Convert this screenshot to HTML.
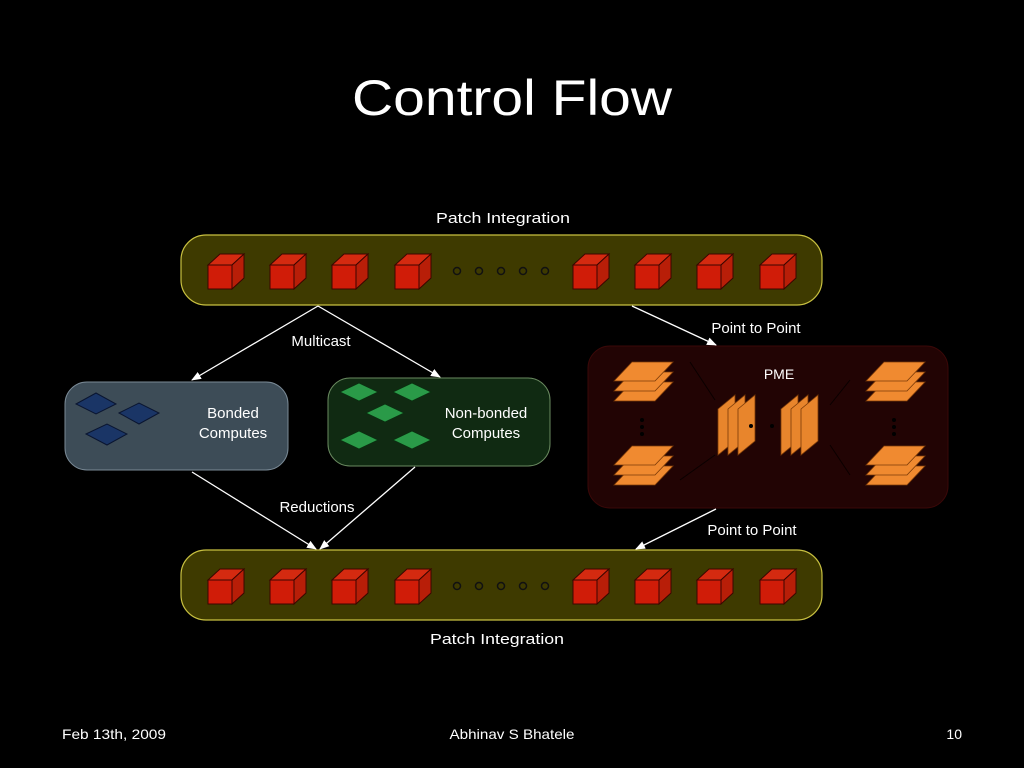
<!DOCTYPE html>
<html><head><meta charset="utf-8"><style>
html,body{margin:0;padding:0;background:#000;}
svg{display:block;}
text{font-family:"Liberation Sans",sans-serif;fill:#fff;}
</style></head><body>
<svg width="1024" height="768" viewBox="0 0 1024 768" xmlns="http://www.w3.org/2000/svg">
<defs>
<g id="cube">
<polygon points="0,0 24,0 36,-11 12,-11" fill="#d42a10" stroke="#3a0500" stroke-width="1"/>
<polygon points="24,0 36,-11 36,13 24,24" fill="#b81e08" stroke="#3a0500" stroke-width="1"/>
<rect x="0" y="0" width="24" height="24" fill="#d01c08" stroke="#3a0500" stroke-width="1"/>
</g>
<g id="row">
<use href="#cube" x="208" y="0"/><use href="#cube" x="270" y="0"/><use href="#cube" x="332" y="0"/><use href="#cube" x="395" y="0"/>
<use href="#cube" x="573" y="0"/><use href="#cube" x="635" y="0"/><use href="#cube" x="697" y="0"/><use href="#cube" x="760" y="0"/>
<g fill="none" stroke="#111" stroke-width="1.5"><circle cx="457" cy="6" r="3.5"/><circle cx="479" cy="6" r="3.5"/><circle cx="501" cy="6" r="3.5"/><circle cx="523" cy="6" r="3.5"/><circle cx="545" cy="6" r="3.5"/></g>
</g>
<g id="layer"><polygon points="0,19 18,0 59,0 41,19" fill="#f08a30" stroke="#7a3a08" stroke-width="0.8"/></g>
<g id="stack"><use href="#layer" y="20"/><use href="#layer" y="10"/><use href="#layer" y="0"/></g>
<g id="panel"><polygon points="0,14 17,0 17,46 0,60" fill="#e8852c" stroke="#7a3a08" stroke-width="0.8"/></g>
<g id="panels"><use href="#panel" x="0"/><use href="#panel" x="10"/><use href="#panel" x="20"/></g>
<marker id="ah" markerWidth="10" markerHeight="8" refX="9" refY="4" orient="auto" markerUnits="userSpaceOnUse"><polygon points="0,0 10,4 0,8" fill="#fff"/></marker>
</defs>

<text x="512" y="115" font-size="50" text-anchor="middle" textLength="320" lengthAdjust="spacingAndGlyphs">Control Flow</text>

<text x="503" y="223" font-size="15" text-anchor="middle" textLength="134" lengthAdjust="spacingAndGlyphs">Patch Integration</text>
<rect x="181" y="235" width="641" height="70" rx="25" fill="#3e3a00" stroke="#c8c040" stroke-width="1.2"/>
<use href="#row" y="265"/>

<rect x="181" y="550" width="641" height="70" rx="25" fill="#3e3a00" stroke="#c8c040" stroke-width="1.2"/>
<use href="#row" y="580"/>
<text x="497" y="644" font-size="15" text-anchor="middle" textLength="134" lengthAdjust="spacingAndGlyphs">Patch Integration</text>

<!-- bonded -->
<rect x="65" y="382" width="223" height="88" rx="22" fill="#3d4c57" stroke="#7a8a96" stroke-width="1"/>
<g fill="#1a3566" stroke="#0a1530" stroke-width="1">
<polygon points="76,404 96,393 116,404 96,414"/>
<polygon points="119,413 139,403 159,413 139,424"/>
<polygon points="86,434 107,424 127,434 107,445"/>
</g>
<text x="233" y="418" font-size="15" text-anchor="middle">Bonded</text>
<text x="233" y="438" font-size="15" text-anchor="middle">Computes</text>

<!-- nonbonded -->
<rect x="328" y="378" width="222" height="88" rx="22" fill="#102a12" stroke="#6a8a60" stroke-width="1"/>
<g fill="#2a9a48" stroke="#0a3010" stroke-width="0.8">
<polygon points="340,392 359,383 378,392 359,401"/>
<polygon points="393,392 412,383 431,392 412,401"/>
<polygon points="366,413 385,404 404,413 385,422"/>
<polygon points="340,440 359,431 378,440 359,449"/>
<polygon points="393,440 412,431 431,440 412,449"/>
</g>
<text x="486" y="418" font-size="15" text-anchor="middle">Non-bonded</text>
<text x="486" y="438" font-size="15" text-anchor="middle">Computes</text>

<!-- PME -->
<rect x="588" y="346" width="360" height="162" rx="22" fill="#220404" stroke="#3a0808" stroke-width="1"/>
<text x="779" y="379" font-size="14" text-anchor="middle">PME</text>
<g stroke="#0a0000" stroke-width="1" fill="none">
<line x1="690" y1="362" x2="715" y2="400"/><line x1="680" y1="480" x2="715" y2="455"/>
<line x1="850" y1="380" x2="830" y2="405"/><line x1="850" y1="475" x2="830" y2="445"/>
</g>
<use href="#stack" x="614" y="362"/>
<use href="#stack" x="614" y="446"/>
<use href="#stack" x="866" y="362"/>
<use href="#stack" x="866" y="446"/>
<use href="#panels" x="718" y="395"/>
<use href="#panels" x="781" y="395"/>
<g fill="#000"><circle cx="642" cy="420" r="2"/><circle cx="642" cy="427" r="2"/><circle cx="642" cy="434" r="2"/>
<circle cx="894" cy="420" r="2"/><circle cx="894" cy="427" r="2"/><circle cx="894" cy="434" r="2"/>
<circle cx="751" cy="426" r="2"/><circle cx="772" cy="426" r="2"/></g>

<!-- arrows -->
<g stroke="#fff" stroke-width="1.3" fill="none" marker-end="url(#ah)">
<line x1="318" y1="306" x2="192" y2="380"/>
<line x1="318" y1="306" x2="440" y2="377"/>
<line x1="632" y1="306" x2="716" y2="345"/>
<line x1="192" y1="472" x2="316" y2="549"/>
<line x1="415" y1="467" x2="320" y2="549"/>
<line x1="716" y1="509" x2="636" y2="549"/>
</g>
<text x="321" y="346" font-size="15" text-anchor="middle">Multicast</text>
<text x="756" y="333" font-size="15" text-anchor="middle">Point to Point</text>
<text x="317" y="512" font-size="15" text-anchor="middle">Reductions</text>
<text x="752" y="535" font-size="15" text-anchor="middle">Point to Point</text>

<text x="62" y="739" font-size="14" textLength="104" lengthAdjust="spacingAndGlyphs">Feb 13th, 2009</text>
<text x="512" y="739" font-size="14" text-anchor="middle" textLength="125" lengthAdjust="spacingAndGlyphs">Abhinav S Bhatele</text>
<text x="962" y="739" font-size="14" text-anchor="end">10</text>
</svg>
</body></html>
